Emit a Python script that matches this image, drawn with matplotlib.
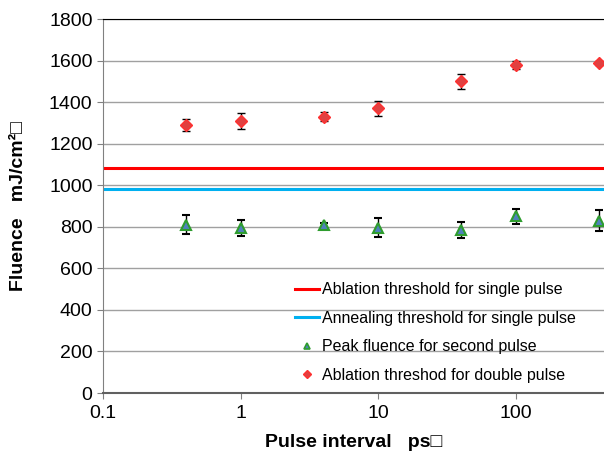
import matplotlib
matplotlib.use("Agg")
import matplotlib.pyplot as plt
from matplotlib.lines import Line2D

plt.rcParams['font.family'] = ['Liberation Sans', 'DejaVu Sans']

# Data
pulse_interval = [0.4, 1, 4, 10, 40, 100, 400]
double_thr = [1290, 1308, 1330, 1370, 1500, 1578, 1588]
double_err = [30, 38, 22, 35, 35, 20, 10]
second_peak = [810, 795, 808, 795, 785, 850, 830]
second_err = [45, 40, 10, 45, 40, 35, 50]
ablation_single = 1085
annealing_single = 980
labels = ['Ablation threshold for single pulse',
          'Annealing threshold for single pulse',
          'Peak fluence for second pulse',
          'Ablation threshod for double pulse']


def main():
    fig = plt.figure(figsize=(6.04, 4.59), dpi=100)
    ax = fig.add_axes([103 / 604, 1 - 393 / 459, 1 - 103 / 604, (393 - 19) / 459])

    ax.set_xscale('log')
    ax.set_xlim(0.1, 10 ** 2.64)
    ax.set_ylim(0, 1800)
    ax.set_yticks(range(0, 1801, 200))
    ax.set_xticks([0.1, 1, 10, 100])
    ax.set_xticklabels(['0.1', '1', '10', '100'])
    ax.minorticks_off()
    ax.yaxis.grid(True, color='#a0a0a0', lw=1)
    ax.set_axisbelow(True)

    ax.axhline(ablation_single, color='#ff0000', lw=2.2)
    ax.axhline(annealing_single, color='#00b0f0', lw=2.2)

    ax.errorbar(pulse_interval, second_peak, yerr=second_err, fmt='^',
                color='#4f81bd', mec='#2e9c2e', mew=1.5, ms=7,
                ecolor='black', elinewidth=1, capsize=3, clip_on=False, zorder=4)
    ax.errorbar(pulse_interval, double_thr, yerr=double_err, fmt='D',
                color='#e04040', mec='#ff3030', mew=1, ms=6,
                ecolor='black', elinewidth=1, capsize=3, clip_on=False, zorder=4)

    ax.spines['right'].set_visible(False)
    ax.spines['top'].set_color('black')
    ax.spines['left'].set_color('#808080')
    ax.spines['bottom'].set_color('#606060')
    ax.spines['bottom'].set_linewidth(1.5)
    ax.tick_params(axis='both', labelsize=14, color='#808080', length=4)
    ax.tick_params(axis='x', pad=5)

    ax.set_xlabel('Pulse interval   ps\u25a1', fontsize=14, fontweight='bold', labelpad=8)
    ax.set_ylabel('Fluence   mJ/cm\u00b2\u25a1', fontsize=14, fontweight='bold', labelpad=16)

    handles = [
        Line2D([], [], color='#ff0000', lw=2.2),
        Line2D([], [], color='#00b0f0', lw=2.2),
        Line2D([], [], ls='', marker='^', color='#4f81bd', mec='#2e9c2e', mew=1.2, ms=5),
        Line2D([], [], ls='', marker='D', color='#e04040', mec='#ff3030', mew=1, ms=4),
    ]
    fig.legend(handles, labels, loc='lower right', bbox_to_anchor=(584 / 604, 1 - 391 / 459),
               frameon=False, fontsize=11.5, handlelength=1.5, handletextpad=0.2,
               labelspacing=0.85, borderpad=0)

    fig.savefig('out.png', dpi=100)


if __name__ == "__main__":
    main()
